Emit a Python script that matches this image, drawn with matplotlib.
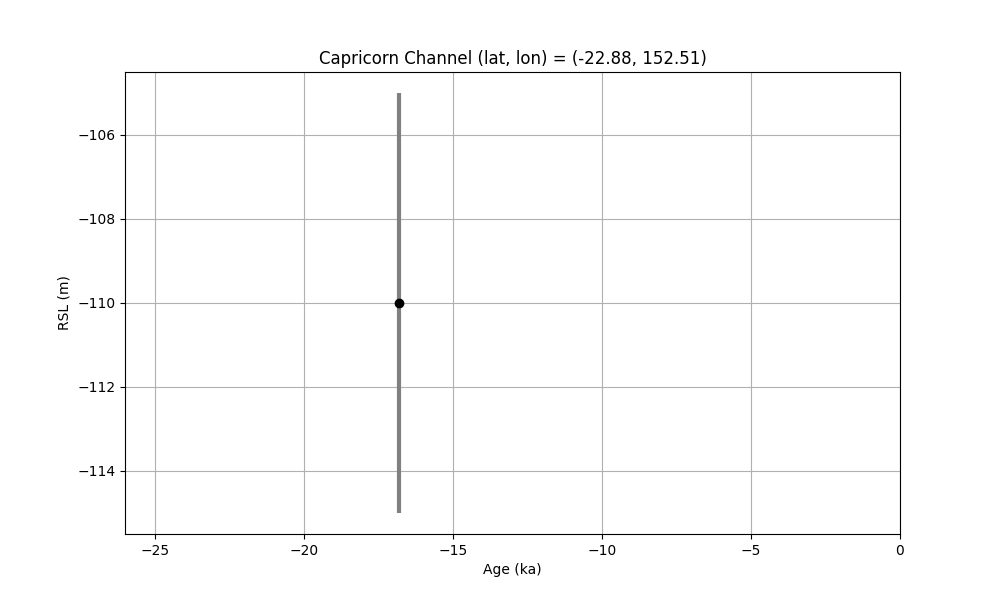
import matplotlib
matplotlib.use("Agg")
import matplotlib.pyplot as plt

site_name = "Capricorn Channel"
site_lat = -22.88
site_lon = 152.51

age = [-16.8]       # ka
rsl = [-110.0]      # m
rsl_err = [5.0]     # m

fig, ax = plt.subplots(figsize=(10, 6))
ax.errorbar(age, rsl, yerr=rsl_err, fmt='o', color='black', ecolor='gray',
            elinewidth=3, capsize=0, zorder=3)
ax.set_xlim(-26, 0)
ax.set_xlabel('Age (ka)')
ax.set_ylabel('RSL (m)')
ax.set_title(f'{site_name} (lat, lon) = ({site_lat}, {site_lon})')
ax.grid(True)

plt.savefig('out.png', dpi=100)
